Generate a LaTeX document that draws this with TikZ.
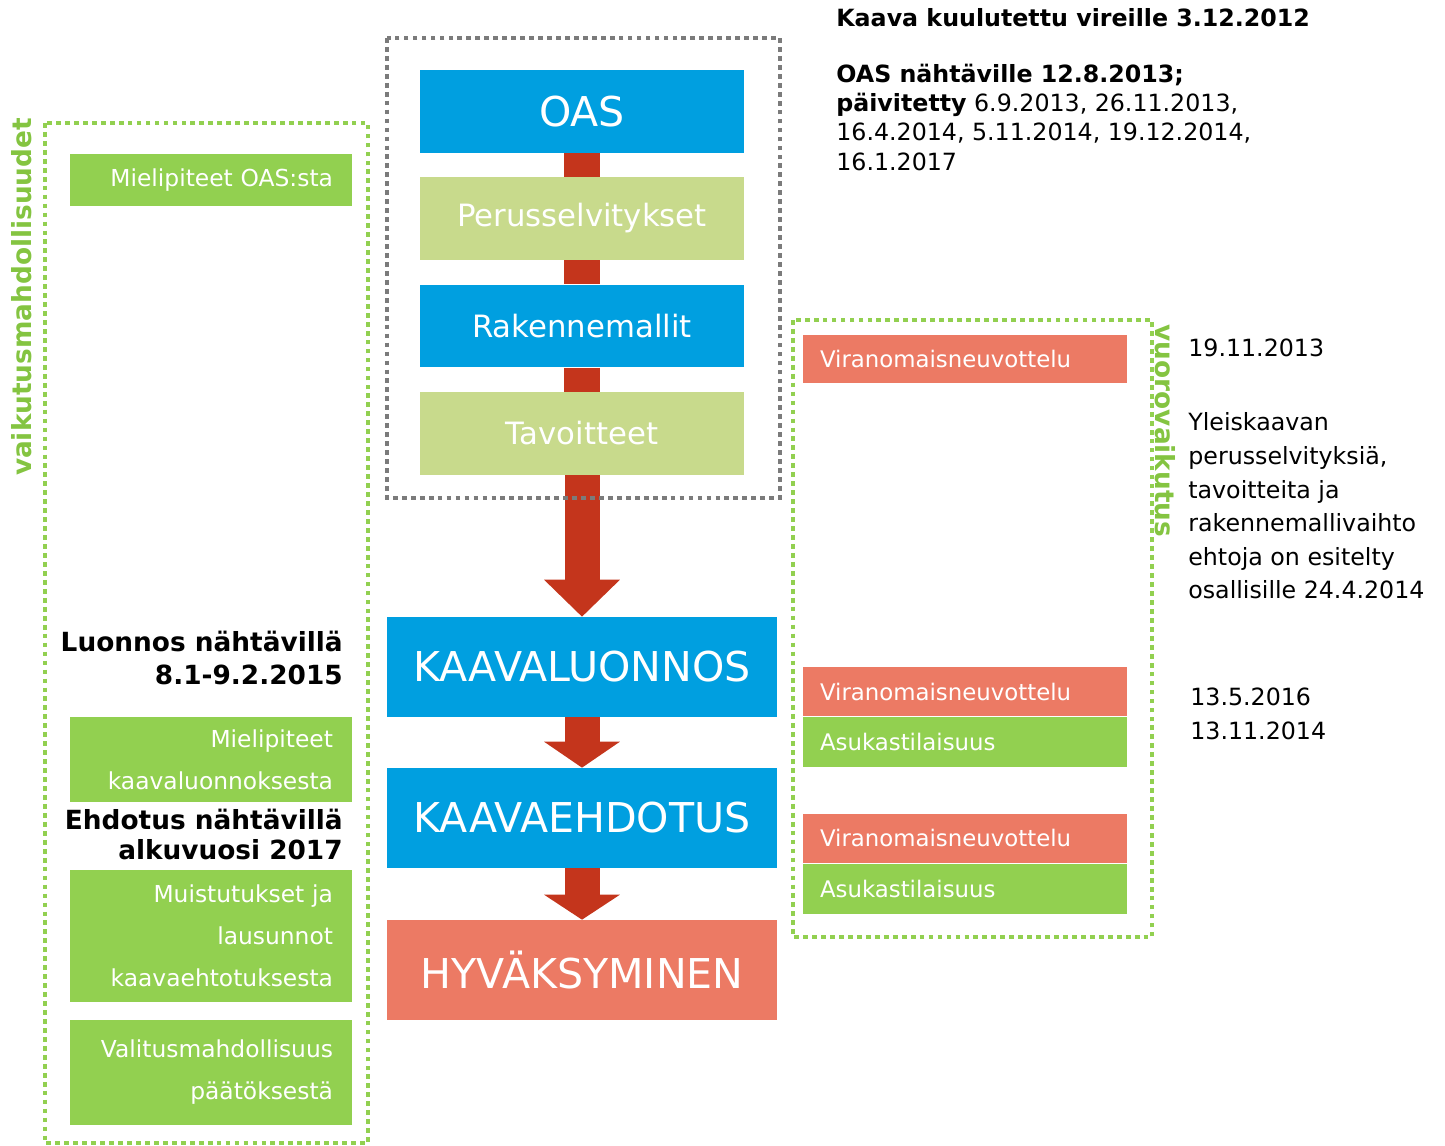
\documentclass[tikz,border=0pt]{standalone}
\usepackage{fontspec}
\setmainfont{DejaVu Sans}
\usetikzlibrary{arrows.meta}
\definecolor{PlanBlue}{HTML}{009FE0}
\definecolor{PlanSage}{HTML}{C8DA8C}
\definecolor{PlanGreen}{HTML}{92D050}
\definecolor{PlanSalmon}{HTML}{EC7A64}
\definecolor{PlanRed}{HTML}{C4351C}
\definecolor{PlanGrey}{HTML}{7B7B7B}
\definecolor{PlanLabel}{HTML}{84C441}

\begin{document}
\begin{tikzpicture}[x=0.02cm, y=-0.02cm,
  phase/.style={minimum width=6.5cm, minimum height=1.66cm, inner sep=0pt,
                text=white, font=\fontsize{17.5}{20}\selectfont},
  milestone/.style={minimum width=7.82cm, minimum height=2cm, inner sep=0pt,
                text=white, font=\fontsize{23.4}{26}\selectfont},
  voice/.style={fill=PlanGreen, text=white, text width=4.88cm, align=right,
                inner xsep=0.38cm, inner ysep=0pt, font=\fontsize{13.3}{23.9}\selectfont},
  meeting/.style={text=white, text width=5.8cm, align=left, inner xsep=0.34cm,
                inner ysep=0pt, minimum height=0.98cm, font=\fontsize{13}{15}\selectfont},
  note/.style={inner sep=0pt, text=black, font=\fontsize{13.5}{19.1}\selectfont},
  frame/.style={line width=2.6pt, dash pattern=on 2.7pt off 2.4pt},
  stem/.style={draw=PlanRed, line width=0.72cm},
  push/.style={draw=PlanRed, line width=0.7cm,
               -{Triangle[width=1.52cm, length=#1, line width=0pt]}}
]
\useasboundingbox (0,0) rectangle (1445,1146);
\node[phase, fill=PlanBlue, font=\fontsize{23.4}{26}\selectfont] (oas) at (582,111.5) {OAS};
\node[phase, fill=PlanSage] (perus) at (582,218.5) {Perusselvitykset};
\node[phase, fill=PlanBlue] (rakenne) at (582,326) {Rakennemallit};
\node[phase, fill=PlanSage] (tavoite) at (582,433.5) {Tavoitteet};
\node[milestone, fill=PlanBlue] (luonnos) at (582,667) {KAAVALUONNOS};
\node[milestone, fill=PlanBlue] (ehdotus) at (582,818) {KAAVAEHDOTUS};
\node[milestone, fill=PlanSalmon] (hyvaksy) at (582,970) {HYVÄKSYMINEN};
\draw[stem] (oas) -- (perus);
\draw[stem] (perus) -- (rakenne);
\draw[stem] (rakenne) -- (tavoite);
\draw[push=0.74cm] (tavoite) -- (luonnos);
\draw[push=0.52cm] (luonnos) -- (ehdotus);
\draw[push=0.5cm] (ehdotus) -- (hyvaksy);
\draw[frame, draw=PlanGrey] (387,38) rectangle (780,498);
\draw[frame, draw=PlanGreen] (45,123) rectangle (368,1143);
\draw[frame, draw=PlanGreen] (793,320) rectangle (1152,937);

\node[note, rotate=90, text=PlanLabel, font=\bfseries\fontsize{15}{18}\selectfont]
  (vaikutus) at (22,297) {vaikutusmahdollisuudet};
\node[voice, minimum height=1.04cm] (oasvoice) at (211,180) {Mielipiteet OAS:sta};
\node[note, anchor=east, align=right, font=\bfseries\fontsize{15}{18.8}\selectfont]
  (luonnosinfo) at (343,657.5) {Luonnos nähtävillä\\8.1-9.2.2015};
\node[voice, minimum height=1.7cm] (luonvoice) at (211,759.5)
  {Mielipiteet\\kaavaluonnoksesta};
\node[note, anchor=east, align=right, font=\bfseries\fontsize{15}{17.6}\selectfont]
  (ehdotusinfo) at (343,834.5) {Ehdotus nähtävillä\\alkuvuosi 2017};
\node[voice, minimum height=2.64cm] (ehdvoice) at (211,936)
  {Muistutukset ja\\lausunnot\\kaavaehtotuksesta};
\node[voice, minimum height=2.1cm] (valitus) at (211,1072.5)
  {Valitusmahdollisuus\\päätöksestä};

\node[note, rotate=-90, text=PlanLabel, font=\bfseries\fontsize{15}{18}\selectfont]
  (vuoro) at (1165,431) {vuorovaikutus};
\node[meeting, fill=PlanSalmon] (neuv1) at (965,359) {Viranomaisneuvottelu};
\node[meeting, fill=PlanSalmon] (neuv2) at (965,691.5) {Viranomaisneuvottelu};
\node[meeting, fill=PlanGreen, minimum height=1cm] (asuk2) at (965,742) {Asukastilaisuus};
\node[meeting, fill=PlanSalmon] (neuv3) at (965,838) {Viranomaisneuvottelu};
\node[meeting, fill=PlanGreen, minimum height=1cm] (asuk3) at (965,889) {Asukastilaisuus};

\node[note, anchor=west, font=\bfseries\fontsize{13.5}{16}\selectfont]
  (vireille) at (836,18) {Kaava kuulutettu vireille 3.12.2012};
\node[note, anchor=west, align=left, font=\fontsize{13.5}{16.7}\selectfont] (oasinfo) at (836,117)
  {\textbf{OAS nähtäville 12.8.2013;}\\\textbf{päivitetty} 6.9.2013, 26.11.2013,\\
   16.4.2014, 5.11.2014, 19.12.2014,\\16.1.2017};
\node[note, anchor=west] (neuvdate) at (1188,348) {19.11.2013};
\node[note, anchor=west, align=left] (esittely) at (1188,506)
  {Yleiskaavan\\perusselvityksiä,\\tavoitteita ja\\rakennemallivaihto\\ehtoja on esitelty\\osallisille 24.4.2014};
\node[note, anchor=west, align=left] (dates) at (1190,714) {13.5.2016\\13.11.2014};
\end{tikzpicture}
\end{document}
